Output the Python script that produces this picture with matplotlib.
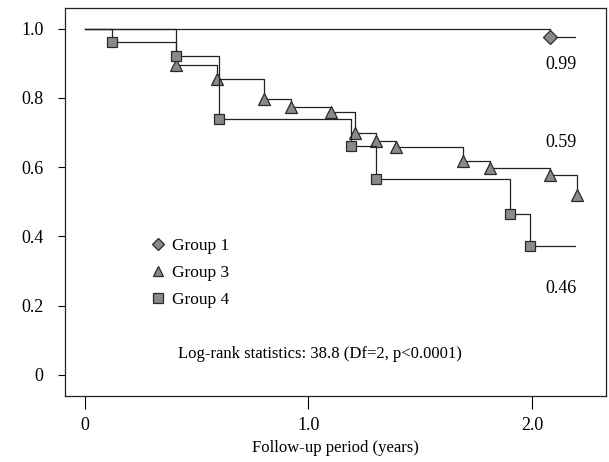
import matplotlib
matplotlib.use("Agg")
import matplotlib.pyplot as plt
from matplotlib.lines import Line2D

plt.rcParams['font.family'] = ['Liberation Serif', 'DejaVu Serif']

# Kaplan-Meier style steps (years, survival)
g1_t = [0.0, 2.08, 2.19]
g1_s = [1.0, 0.975, 0.975]
g1_mark = [1]

g3_t = [0.0, 0.41, 0.59, 0.80, 0.92, 1.10, 1.21, 1.30, 1.39, 1.69, 1.81, 2.08, 2.20]
g3_s = [1.0, 0.895, 0.854, 0.797, 0.775, 0.76, 0.70, 0.676, 0.657, 0.618, 0.597, 0.576, 0.52]

g4_t = [0.0, 0.12, 0.41, 0.60, 1.19, 1.30, 1.90, 1.99, 2.19]
g4_s = [1.0, 0.96, 0.922, 0.74, 0.662, 0.565, 0.465, 0.372, 0.372]

end_labels = ["0.99", "0.59", "0.46"]
end_label_y = [0.895, 0.67, 0.25]

xticks = [0, 1.0, 2.0]
xtick_labels = ["0", "1.0", "2.0"]
yticks = [0, 0.2, 0.4, 0.6, 0.8, 1.0]
ytick_labels = ["0", "0.2", "0.4", "0.6", "0.8", "1.0"]

face = "#8a8a8a"
edge = "#2a2a2a"

fig = plt.figure(figsize=(6.09, 4.62), dpi=100)
ax = fig.add_axes([0.106, 0.142, 0.889, 0.841])

ax.plot(g1_t, g1_s, drawstyle="steps-post", color="#222222", lw=0.9)
ax.plot([g1_t[i] for i in g1_mark], [g1_s[i] for i in g1_mark], ls="none",
        marker="D", ms=7, mfc=face, mec=edge, mew=0.9)

ax.plot(g3_t, g3_s, drawstyle="steps-post", color="#222222", lw=0.9)
ax.plot(g3_t[1:], g3_s[1:], ls="none", marker="^", ms=8, mfc=face, mec=edge, mew=0.9)

ax.plot(g4_t, g4_s, drawstyle="steps-post", color="#222222", lw=0.9)
ax.plot(g4_t[1:-1], g4_s[1:-1], ls="none", marker="s", ms=7.5, mfc=face, mec=edge, mew=0.9)

for lab, yy in zip(end_labels, end_label_y):
    ax.text(2.13, yy, lab, ha="center", va="center", fontsize=13)

handles = [
    Line2D([], [], ls="none", marker="D", ms=6, mfc=face, mec=edge, mew=0.9),
    Line2D([], [], ls="none", marker="^", ms=7, mfc=face, mec=edge, mew=0.9),
    Line2D([], [], ls="none", marker="s", ms=6.5, mfc=face, mec=edge, mew=0.9),
]
ax.legend(handles, ["Group 1", "Group 3", "Group 4"], frameon=False,
          loc="upper left", bbox_to_anchor=(0.143, 0.43), fontsize=12.5,
          handlelength=0.8, handletextpad=0.45, labelspacing=0.62, borderpad=0)

ax.text(1.05, 0.06, "Log-rank statistics: 38.8 (Df=2, p<0.0001)",
        ha="center", va="center", fontsize=12)

ax.set_xlim(-0.09, 2.33)
ax.set_ylim(-0.062, 1.06)
ax.set_xticks(xticks)
ax.set_xticklabels(xtick_labels)
ax.set_yticks(yticks)
ax.set_yticklabels(ytick_labels)
ax.tick_params(axis="x", direction="out", length=9, width=0.8, pad=6, labelsize=13)
ax.tick_params(axis="y", direction="out", length=5, width=0.8, pad=10, labelsize=13)
for sp in ax.spines.values():
    sp.set_linewidth(0.9)
    sp.set_color("#222222")

ax.set_xlabel("Follow-up period (years)", fontsize=12, labelpad=4)

fig.savefig("out.png", dpi=100)
